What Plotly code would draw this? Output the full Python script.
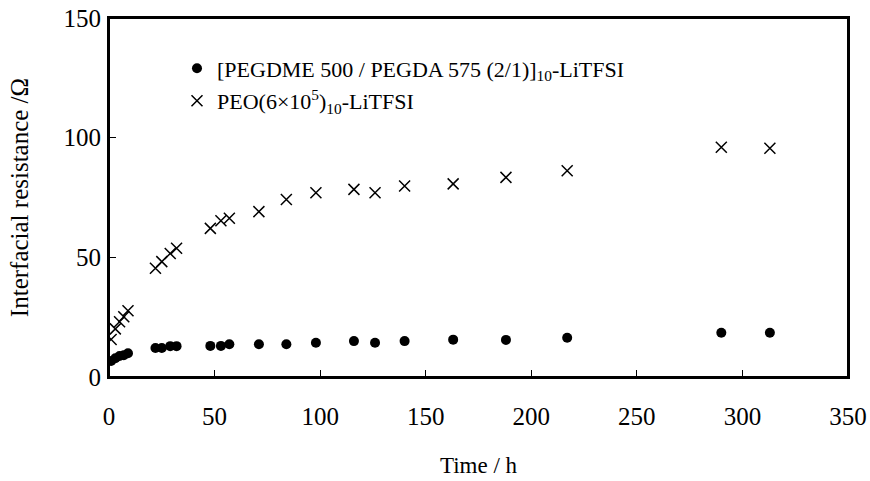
import plotly.graph_objects as go

time_h = [1, 3, 5, 7, 9, 22, 25, 29, 32, 48, 53, 57, 71, 84, 98, 116, 126, 140, 163, 188, 217, 290, 313]
r_pegdme = [6.7, 7.8, 8.8, 9.1, 9.9, 12.1, 12.1, 12.9, 12.9, 13.0, 13.0, 13.7, 13.7, 13.7, 14.3, 15.0, 14.3, 15.0, 15.6, 15.5, 16.4, 18.5, 18.5]
r_peo = [15.7, 20.1, 23.1, 25.2, 27.7, 45.4, 48.2, 51.6, 53.8, 62.1, 65.3, 66.3, 69.1, 74.2, 77.0, 78.4, 77.0, 79.8, 80.7, 83.4, 86.2, 96.0, 95.6]

name_pegdme = "[PEGDME 500 / PEGDA 575 (2/1)]<sub>10</sub>-LiTFSI"
name_peo = "PEO(6×10<sup>5</sup>)<sub>10</sub>-LiTFSI"

x_ticks = [0, 50, 100, 150, 200, 250, 300, 350]
y_ticks = [0, 50, 100, 150]

FONT = "Liberation Serif, Times New Roman, serif"

fig = go.Figure()
fig.add_trace(go.Scatter(x=time_h, y=r_pegdme, mode="markers", name=name_pegdme,
                         legendgroup="a",
                         marker=dict(symbol="circle", size=10, color="black")))
fig.add_trace(go.Scatter(x=time_h, y=r_peo, mode="markers", name=name_peo,
                         legendgroup="b",
                         marker=dict(symbol="x-thin", size=11, color="black",
                                     line=dict(width=1.5, color="black"))))

fig.update_layout(
    width=870, height=481,
    margin=dict(l=109, r=22, t=18, b=104, autoexpand=False),
    paper_bgcolor="white", plot_bgcolor="white",
    font=dict(family=FONT, size=22, color="black"),
    showlegend=True,
    legend=dict(x=0.092, y=0.918, xanchor="left", yanchor="top",
                bgcolor="rgba(0,0,0,0)", font=dict(size=22, family=FONT),
                itemwidth=30, traceorder="grouped", tracegroupgap=1),
    shapes=[dict(type="rect", xref="paper", yref="paper", x0=0, y0=0, x1=1, y1=1,
                 line=dict(color="black", width=2), layer="above")],
)
fig.update_xaxes(range=[0, 350], tickvals=x_ticks, ticks="inside", ticklen=7,
                 tickcolor="black", showline=True, linecolor="black", linewidth=2,
                 mirror=True, showgrid=False, zeroline=False, automargin=False,
                 ticklabeloverflow="allow",
                 tickfont=dict(size=25, family=FONT), ticklabelstandoff=16,
                 title=dict(text="Time / h", font=dict(size=23, family=FONT), standoff=28))
fig.update_yaxes(range=[0, 150], tickvals=y_ticks, ticks="inside", ticklen=7,
                 tickcolor="black", showline=True, linecolor="black", linewidth=2,
                 mirror=True, showgrid=False, zeroline=False, automargin=False,
                 ticklabeloverflow="allow",
                 tickfont=dict(size=25, family=FONT), ticklabelstandoff=1,
                 title=dict(text="Interfacial resistance /Ω", font=dict(size=25, family=FONT), standoff=28))

fig.write_html("out.html", config={"displayModeBar": False},
               post_script="document.body.style.margin='0';")
